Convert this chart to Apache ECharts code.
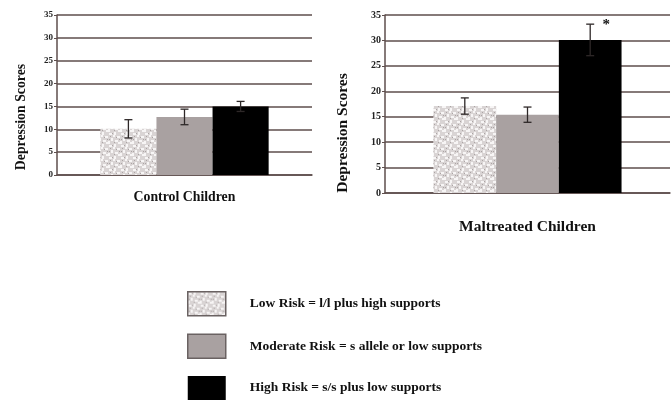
<!DOCTYPE html>
<html>
<head>
<meta charset="utf-8">
<script src="https://cdn.jsdelivr.net/npm/echarts@6/dist/echarts.min.js"></script>
<style>
html,body{margin:0;padding:0;background:#fff;}
#c{width:671px;height:408px;}
</style>
</head>
<body>
<div id="c"></div>
<script>
// ---- data ----
const riskNames = [
  'Low Risk = l/l plus high supports',
  'Moderate Risk = s allele or low supports',
  'High Risk = s/s plus low supports'
];
const panelLeft = ['Control Children'];
const panelRight = ['Maltreated Children'];
const controlMeans = [10.1, 12.7, 15.0];
const controlErr = [2.0, 1.7, 1.1];
const maltreatedMeans = [17.1, 15.4, 30.1];
const maltreatedErr = [1.6, 1.5, 3.1];
const maltreatedSig = ['', '', '*'];
const yMin = 0, yMax = 35, yStep = 5;
const yTitle = 'Depression Scores';

// ---- styles ----
const FONT = '"Liberation Serif","DejaVu Serif",serif';
const GRID_COL = '#5e4e4c';
const BAR_FRAC = 0.22;

function makeSpeckle() {
  const c = document.createElement('canvas');
  c.width = 12; c.height = 12;
  const g = c.getContext('2d');
  g.fillStyle = '#d9d4d4';
  g.fillRect(0, 0, 12, 12);
  const whites = [[1,1,3,2],[6,0,2,3],[9,4,3,2],[3,6,2,3],[7,8,3,2],[0,9,2,3],[10,10,2,2],[5,3,2,2]];
  g.fillStyle = '#f7f5f5';
  whites.forEach(r => g.fillRect(r[0], r[1], r[2], r[3]));
  const greys = [[4,1,1,1],[8,5,1,1],[2,4,1,1],[6,10,1,1],[11,7,1,1],[1,7,1,1]];
  g.fillStyle = '#aba4a4';
  greys.forEach(r => g.fillRect(r[0], r[1], r[2], r[3]));
  return c;
}
const speckle = { image: makeSpeckle(), repeat: 'repeat' };
const barColors = [speckle, '#a9a1a1', '#000000'];

const chart = echarts.init(document.getElementById('c'), null, { renderer: 'canvas' });

function yAxisCfg(gi, fs) {
  return {
    type: 'value', gridIndex: gi, min: yMin, max: yMax, interval: yStep,
    axisLine: { show: true, lineStyle: { color: GRID_COL, width: 1.5 } },
    axisTick: { show: true, length: 3, lineStyle: { color: GRID_COL } },
    axisLabel: { fontFamily: FONT, fontWeight: 'bold', fontSize: fs, color: '#222', margin: 4 },
    splitLine: { show: true, lineStyle: { color: GRID_COL, width: 1.5 } }
  };
}
function xAxisCfg(gi, data, fs, margin) {
  return {
    type: 'category', gridIndex: gi, data: data,
    axisLine: { show: true, lineStyle: { color: GRID_COL, width: 1.5 } },
    axisTick: { show: false },
    axisLabel: { fontFamily: FONT, fontWeight: 'bold', fontSize: fs, color: '#111', margin: margin }
  };
}

function errSeries(gi, means, errs, sig) {
  return {
    type: 'custom', xAxisIndex: gi, yAxisIndex: gi, z: 10,
    data: means.map((m, i) => [0, m, errs[i], i]),
    renderItem: function (params, api) {
      const cat = api.value(0), m = api.value(1), e = api.value(2), idx = api.value(3);
      const band = api.size([1, 0])[0];
      const c = api.coord([cat, m]);
      const x = c[0] + (idx - 1) * band * BAR_FRAC;
      const yT = api.coord([cat, m + e])[1];
      const yB = api.coord([cat, m - e])[1];
      const hw = 4;
      const st = { stroke: '#2e2828', lineWidth: 1.3 };
      const ch = [
        { type: 'line', shape: { x1: x, y1: yT, x2: x, y2: yB }, style: st },
        { type: 'line', shape: { x1: x - hw, y1: yT, x2: x + hw, y2: yT }, style: st },
        { type: 'line', shape: { x1: x - hw, y1: yB, x2: x + hw, y2: yB }, style: st }
      ];
      if (sig && sig[idx]) {
        ch.push({ type: 'text', style: { text: sig[idx], x: x + 16, y: yT + 1, fill: '#111',
          font: 'bold 15px ' + FONT, textAlign: 'center', textVerticalAlign: 'middle' } });
      }
      return { type: 'group', children: ch };
    }
  };
}

const series = [];
[[0, controlMeans], [1, maltreatedMeans]].forEach(([gi, means]) => {
  riskNames.forEach((n, i) => {
    series.push({
      type: 'bar', name: n, xAxisIndex: gi, yAxisIndex: gi,
      data: [means[i]], barWidth: (BAR_FRAC * 100) + '%', barGap: '0%',
      itemStyle: { color: barColors[i] }
    });
  });
});
series.push(errSeries(0, controlMeans, controlErr, null));
series.push(errSeries(1, maltreatedMeans, maltreatedErr, maltreatedSig));

chart.setOption({
  animation: false,
  backgroundColor: '#ffffff',
  grid: [
    { left: 57, top: 15, width: 255, height: 160 },
    { left: 385, top: 15, width: 285, height: 178 }
  ],
  xAxis: [xAxisCfg(0, panelLeft, 13.8, 15), xAxisCfg(1, panelRight, 15.5, 26)],
  yAxis: [yAxisCfg(0, 9), yAxisCfg(1, 10)],
  legend: {
    orient: 'vertical', left: 187, top: 291, padding: 0, height: 130,
    itemWidth: 38, itemHeight: 24, itemGap: 17,
    icon: 'rect',
    textStyle: { fontFamily: FONT, fontWeight: 'bold', fontSize: 13.5, color: '#111', padding: [0, 0, 0, 19] },
    data: riskNames.map((n, i) => ({
      name: n,
      itemStyle: i < 2 ? { borderColor: '#6a6262', borderWidth: 1.5 } : { borderWidth: 0 }
    }))
  },
  graphic: [
    { type: 'text', x: 21, y: 117, rotation: Math.PI / 2,
      style: { text: yTitle, font: 'bold 13.8px ' + FONT, fill: '#111', textAlign: 'center', textVerticalAlign: 'middle' } },
    { type: 'text', x: 343, y: 133, rotation: Math.PI / 2,
      style: { text: yTitle, font: 'bold 15.5px ' + FONT, fill: '#111', textAlign: 'center', textVerticalAlign: 'middle' } }
  ],
  series: series
});
</script>
</body>
</html>
